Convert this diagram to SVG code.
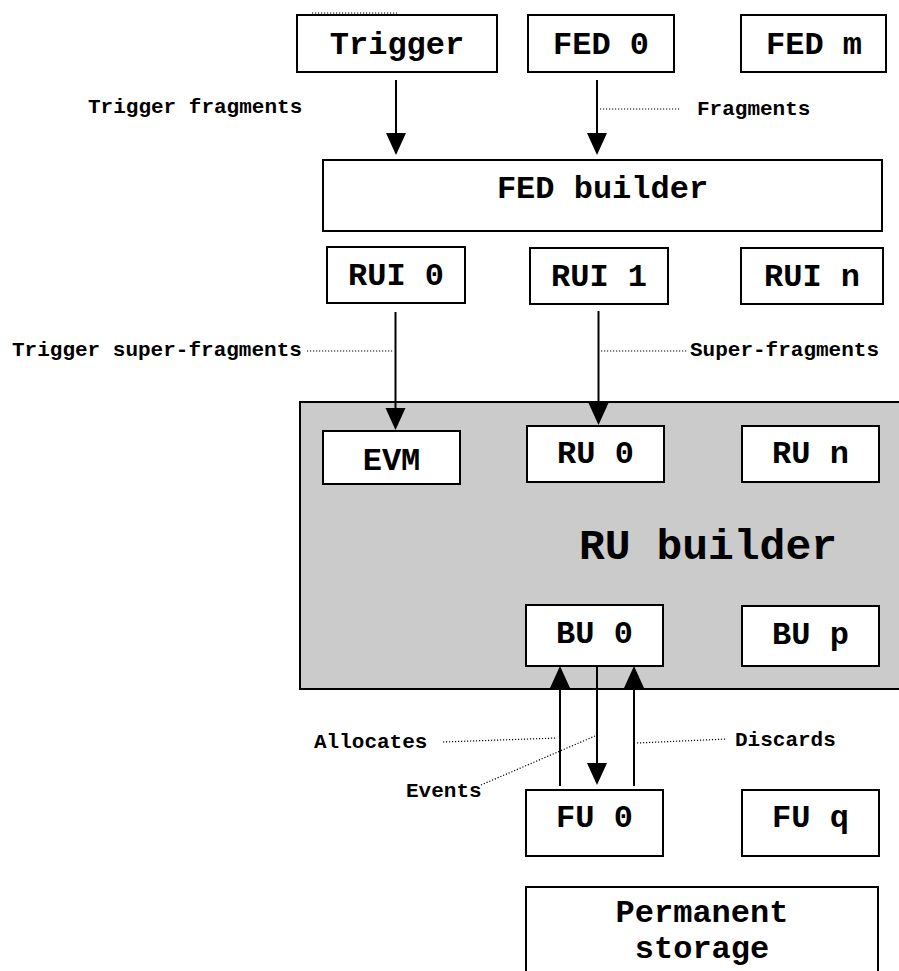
<svg xmlns="http://www.w3.org/2000/svg" width="899" height="971" viewBox="0 0 899 971">
<style>
  .box { fill: #ffffff; stroke: #000000; stroke-width: 2; }
  .big { font-family: "Liberation Mono", "Courier New", monospace; font-weight: bold; font-size: 32px; text-anchor: middle; fill: #000; }
  .lbl { font-family: "Liberation Mono", "Courier New", monospace; font-weight: bold; font-size: 21px; fill: #000; }
  .arrow { stroke: #000; stroke-width: 2; fill: none; marker-end: url(#ah); }
  .dot { stroke: #000; stroke-width: 1.2; stroke-dasharray: 1.2 1.8; fill: none; }
</style>
<defs>
  <marker id="ah" markerUnits="userSpaceOnUse" markerWidth="22" markerHeight="22" viewBox="0 0 22 22" refX="11" refY="11" orient="auto">
    <path d="M0,1 L22,11 L0,21 Z" fill="#000"/>
  </marker>
</defs>

<g id="ru-builder">
  <rect x="300" y="402" width="610" height="287" fill="#cbcbcb" stroke="#000" stroke-width="2"/>
  <text x="708" y="559" class="big" style="font-size:43px">RU builder</text>
</g>

<g id="trigger"><rect class="box" x="297" y="15" width="200" height="57"/><text class="big" x="397" y="54">Trigger</text></g>
<g id="fed0"><rect class="box" x="528" y="15" width="146" height="57"/><text class="big" x="601" y="54">FED 0</text></g>
<g id="fedm"><rect class="box" x="741" y="15" width="145" height="57"/><text class="big" x="814" y="54">FED m</text></g>

<g id="fed-builder"><rect class="box" x="323" y="160" width="559" height="71"/><text class="big" x="602.5" y="198">FED builder</text></g>

<g id="rui0"><rect class="box" x="327" y="247" width="138" height="56"/><text class="big" x="396" y="285">RUI 0</text></g>
<g id="rui1"><rect class="box" x="530" y="248" width="138" height="56"/><text class="big" x="599" y="286">RUI 1</text></g>
<g id="ruin"><rect class="box" x="741" y="248" width="142" height="56"/><text class="big" x="812" y="286">RUI n</text></g>

<g id="evm"><rect class="box" x="323" y="431" width="137" height="53"/><text class="big" x="391.5" y="470">EVM</text></g>
<g id="ru0"><rect class="box" x="527" y="426" width="137" height="56"/><text class="big" x="595.5" y="463">RU 0</text></g>
<g id="run"><rect class="box" x="742" y="426" width="137" height="56"/><text class="big" x="810.5" y="463">RU n</text></g>

<g id="bu0"><rect class="box" x="526" y="605" width="137" height="61"/><text class="big" x="594.5" y="643">BU 0</text></g>
<g id="bup"><rect class="box" x="742" y="606" width="137" height="60"/><text class="big" x="810.5" y="644">BU p</text></g>

<g id="fu0"><rect class="box" x="526" y="790" width="137" height="66"/><text class="big" x="594.5" y="827">FU 0</text></g>
<g id="fuq"><rect class="box" x="742" y="790" width="137" height="66"/><text class="big" x="810.5" y="827">FU q</text></g>

<g id="storage"><rect class="box" x="526" y="887" width="352" height="100"/><text class="big" x="702" y="922">Permanent</text><text class="big" x="702" y="958">storage</text></g>

<g id="connectors">
  <line class="arrow" x1="396" y1="80" x2="396" y2="144"/>
  <line class="arrow" x1="597" y1="80" x2="597" y2="144"/>
  <line class="arrow" x1="395.5" y1="312" x2="395.5" y2="419"/>
  <line class="arrow" x1="598.5" y1="311" x2="598.5" y2="414"/>
  <line class="arrow" x1="560" y1="786" x2="560" y2="677"/>
  <line class="arrow" x1="597" y1="666" x2="597" y2="774"/>
  <line class="arrow" x1="634" y1="786" x2="634" y2="677"/>

  <line class="dot" x1="312" y1="13" x2="397" y2="13"/>
  <line class="dot" x1="600" y1="109" x2="681" y2="109"/>
  <line class="dot" x1="307" y1="351" x2="394" y2="351"/>
  <line class="dot" x1="601" y1="351" x2="687" y2="351"/>
  <line class="dot" x1="443" y1="742" x2="557" y2="738"/>
  <line class="dot" x1="637" y1="743" x2="727" y2="739"/>
  <line class="dot" x1="481" y1="785" x2="595" y2="736"/>
</g>

<g id="labels">
  <text class="lbl" x="88" y="113">Trigger fragments</text>
  <text class="lbl" x="697" y="115">Fragments</text>
  <text class="lbl" x="12" y="356">Trigger super-fragments</text>
  <text class="lbl" x="690" y="356">Super-fragments</text>
  <text class="lbl" x="314" y="748">Allocates</text>
  <text class="lbl" x="735" y="746">Discards</text>
  <text class="lbl" x="406" y="797">Events</text>
</g>
</svg>
